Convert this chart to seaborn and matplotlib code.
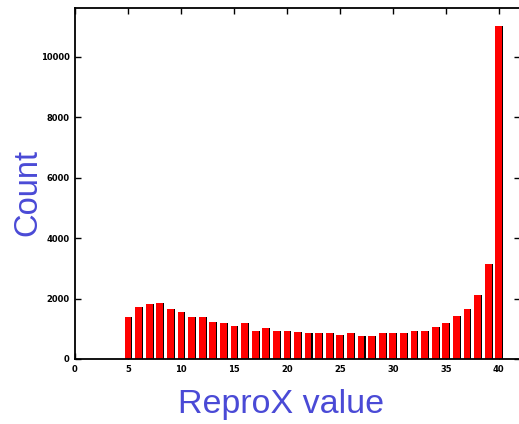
import matplotlib
matplotlib.use("Agg")
import matplotlib.pyplot as plt
import seaborn as sns
import numpy as np
import pandas as pd

# ReproX value bins and counts
reprox_values = list(range(5, 41))
counts = [1400, 1730, 1810, 1840, 1645, 1570, 1400, 1400, 1235, 1180,
          1090, 1180, 940, 1015, 925, 925, 905, 850, 870, 870,
          795, 850, 760, 760, 870, 870, 850, 925, 925, 1070,
          1180, 1420, 1645, 2120, 3150, 11030]
x_ticks = [0, 5, 10, 15, 20, 25, 30, 35, 40]
y_ticks = [0, 2000, 4000, 6000, 8000, 10000]

df = pd.DataFrame({"ReproX": reprox_values, "Count": counts})

sns.set_style("ticks")
plt.rcParams["font.family"] = ["Liberation Sans", "DejaVu Sans"]

W, H = 519, 424
fig = plt.figure(figsize=(W / 100, H / 100), dpi=100)
ax = fig.add_axes([75 / W, 1 - 359 / H, (520 - 75) / W, (359 - 8) / H])

# thin dark shadow behind each bar
shadow = df.assign(ReproX=df["ReproX"] + 0.1)
sns.histplot(data=shadow, x="ReproX", weights="Count", discrete=True, shrink=0.64,
             color="black", alpha=1, edgecolor="none", linewidth=0, ax=ax)
sns.histplot(data=df, x="ReproX", weights="Count", discrete=True, shrink=0.64,
             color="#ff0000", alpha=1, edgecolor="none", linewidth=0, ax=ax)

ax.set_xlim(0, 42)
ax.set_ylim(0, 11620)
ax.set_xticks(x_ticks)
ax.set_yticks(y_ticks)
ax.set_xticklabels([str(t) for t in x_ticks], fontsize=6, fontweight="bold",
                   family=["DejaVu Sans"])
ax.set_yticklabels([str(t) for t in y_ticks], fontsize=6, fontweight="bold",
                   family=["DejaVu Sans"])
ax.tick_params(direction="in", length=4.5, width=1.0, top=True, right=True,
               colors="black", pad=4)
for s in ax.spines.values():
    s.set_linewidth(1.3)
    s.set_color("black")

lab_color = "#4a4ad6"
ax.set_xlabel("ReproX value", fontsize=24.5, color=lab_color)
ax.set_ylabel("Count", fontsize=23.5, color=lab_color)
ax.xaxis.label.set_va("center")
ax.yaxis.label.set_va("center")
ax.xaxis.set_label_coords((281 - 75) / 445, -(405 - 359) / 351)
ax.yaxis.set_label_coords((28 - 75) / 445, (359 - 193) / 351)

fig.savefig("out.png", dpi=100)
